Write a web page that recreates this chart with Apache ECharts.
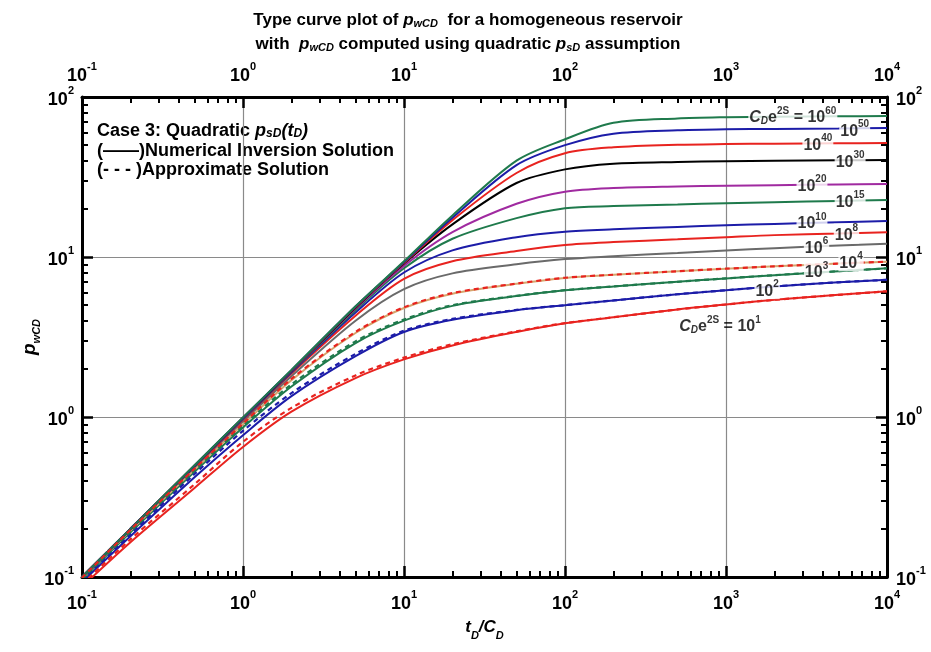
<!DOCTYPE html>
<html>
<head>
<meta charset="utf-8">
<script src="https://cdn.jsdelivr.net/npm/echarts@6/dist/echarts.min.js"></script>
<style>html,body{margin:0;padding:0;background:#fff;}#chart{width:931px;height:652px;}</style>
</head>
<body>
<div id="chart"></div>
<script>
// ---------- data ----------
const xVals = [0.1, 0.2, 0.5, 1, 2, 5, 10, 20, 50, 100, 200, 500, 1000, 2000, 5000, 10000];

const p1e1   = [0.087, 0.165, 0.36, 0.65, 1.08, 1.75, 2.29, 2.8, 3.4, 3.85, 4.2, 4.7, 5.05, 5.4, 5.8, 6.1];
const p1e1a  = [0.09, 0.172, 0.38, 0.70, 1.14, 1.82, 2.35, 2.85, 3.43, 3.86, 4.2, 4.7, 5.05, 5.4, 5.8, 6.1];
const p1e2   = [0.093, 0.18, 0.42, 0.77, 1.35, 2.4, 3.4, 4.05, 4.65, 5.0, 5.35, 5.85, 6.2, 6.55, 6.95, 7.2];
const p1e2a  = [0.095, 0.185, 0.44, 0.82, 1.41, 2.48, 3.46, 4.1, 4.67, 5.0, 5.35, 5.85, 6.2, 6.55, 6.95, 7.2];
const p1e3   = [0.096, 0.19, 0.455, 0.86, 1.55, 2.9, 4.0, 4.95, 5.7, 6.2, 6.55, 7.0, 7.35, 7.7, 8.15, 8.5];
const p1e3a  = [0.097, 0.192, 0.465, 0.88, 1.6, 2.97, 4.07, 5.0, 5.72, 6.2, 6.55, 7.0, 7.35, 7.7, 8.15, 8.5];
const p1e4   = [0.098, 0.195, 0.47, 0.9, 1.7, 3.35, 4.8, 5.9, 6.8, 7.4, 7.75, 8.15, 8.45, 8.75, 9.1, 9.35];
const p1e4a  = [0.099, 0.197, 0.475, 0.91, 1.73, 3.4, 4.85, 5.95, 6.82, 7.42, 7.75, 8.15, 8.45, 8.75, 9.1, 9.35];
const p1e6   = [0.099, 0.198, 0.485, 0.94, 1.8, 4.0, 6.3, 7.9, 9.0, 9.7, 10.1, 10.6, 11.0, 11.35, 11.8, 12.1];
const p1e8   = [0.1, 0.199, 0.49, 0.96, 1.87, 4.3, 7.3, 9.4, 10.9, 11.9, 12.4, 12.9, 13.3, 13.7, 14.0, 14.3];
const p1e10  = [0.1, 0.2, 0.492, 0.97, 1.9, 4.5, 8.0, 11.0, 13.3, 14.4, 14.9, 15.4, 15.8, 16.1, 16.5, 16.8];
const p1e15  = [0.1, 0.2, 0.494, 0.975, 1.92, 4.65, 8.5, 13.0, 17.5, 20.2, 20.8, 21.3, 21.7, 22.0, 22.4, 22.7];
const p1e20  = [0.1, 0.2, 0.495, 0.98, 1.93, 4.75, 8.8, 14.3, 21.5, 25.6, 27.0, 27.6, 27.9, 28.1, 28.4, 28.6];
const p1e30  = [0.1, 0.2, 0.496, 0.985, 1.94, 4.82, 9.1, 16.0, 29.0, 35.3, 38.3, 39.3, 39.7, 40.0, 40.2, 40.4];
const p1e40  = [0.1, 0.2, 0.497, 0.99, 1.95, 4.86, 9.2, 17.0, 33.5, 44.5, 48.5, 50.3, 50.8, 51.1, 51.4, 51.6];
const p1e50  = [0.1, 0.2, 0.498, 0.99, 1.96, 4.9, 9.3, 17.6, 37.5, 50.0, 59.0, 62.0, 62.8, 63.2, 63.6, 64.0];
const p1e60  = [0.1, 0.2, 0.5, 0.995, 1.97, 4.92, 9.4, 18.2, 40.0, 54.4, 69.0, 73.5, 74.8, 75.3, 75.7, 76.0];

const xTickLabels = [0.1, 1, 10, 100, 1000, 10000];
const yTickLabels = [0.1, 1, 10, 100];

// curve labels
const labelExp = ['60', '50', '40', '30', '20', '15', '10', '8', '6', '4', '3', '2', '1'];
const labelX   = [2600, 6300, 3720, 5900, 3420, 5900, 3420, 5600, 3650, 5980, 3650, 1800, 918];
const labelY   = [76, 62.5, 51.3, 40.2, 28.5, 22.5, 16.6, 14.0, 11.6, 9.4, 8.2, 6.3, 3.76];
const labelPrefix = [true, false, false, false, false, false, false, false, false, false, false, false, true];

// ---------- style ----------
const FN = "'Liberation Sans Narrow','Arial Narrow','Liberation Sans',Arial,sans-serif";
const FA = "'Liberation Sans',Arial,sans-serif";
const RED = '#e8231f', BLUE = '#1c1ca8', GREEN = '#1f7a4c', GRAY = '#6a6a6a', PURPLE = '#a02aa0', BLACK = '#000000', TAN = '#d6a56e';

function minorVals(lo, hi) {
  const out = [];
  for (let d = lo; d < hi; d++) for (let k = 2; k <= 9; k++) out.push(+(k * Math.pow(10, d)).toPrecision(6));
  return out;
}
const xMinor = minorVals(-1, 4);
const yMinor = minorVals(-1, 2);

const tickRich = {
  b: { fontFamily: FN, fontWeight: 'bold', fontSize: 18, color: '#000', lineHeight: 24, verticalAlign: 'bottom' },
  s: { fontFamily: FN, fontWeight: 'bold', fontSize: 11, color: '#000', lineHeight: 12, verticalAlign: 'top' }
};
function powFmt(v) { const e = Math.round(Math.log10(v)); return '{b|10}{s|' + e + '}'; }

function mainAxis(pos, isX, showSplit) {
  let margin = 8;
  if (pos === 'bottom') margin = 12;
  if (pos === 'top') margin = 12;
  if (pos === 'right') margin = 9;
  return {
    type: 'log', logBase: 10, position: pos, min: 0.1, max: isX ? 10000 : 100,
    axisLine: { show: true, onZero: false, lineStyle: { color: '#000', width: 3 } },
    axisTick: { show: true, inside: true, length: 11, lineStyle: { color: '#000', width: 2.5 },
                customValues: isX ? xTickLabels : yTickLabels },
    minorTick: { show: false },
    axisLabel: { show: true, formatter: powFmt, rich: tickRich, margin: margin,
                 customValues: isX ? xTickLabels : yTickLabels, showMinLabel: true, showMaxLabel: true },
    splitLine: { show: showSplit, lineStyle: { color: '#8a8a8a', width: 1.2 } }
  };
}
function minorAxis(pos, isX) {
  return {
    type: 'log', logBase: 10, position: pos, min: 0.1, max: isX ? 10000 : 100,
    axisLine: { show: false, onZero: false },
    axisTick: { show: true, inside: true, length: 6, lineStyle: { color: '#000', width: 2 },
                customValues: isX ? xMinor : yMinor },
    axisLabel: { show: false },
    splitLine: { show: false }
  };
}

const xAxes = [mainAxis('bottom', true, true), mainAxis('top', true, false), minorAxis('bottom', true), minorAxis('top', true)];
const yAxes = [mainAxis('left', false, true), mainAxis('right', false, false), minorAxis('left', false), minorAxis('right', false)];

xAxes[0].name = '{i|t}{sub|D}{i|/C}{sub|D}';
xAxes[0].nameLocation = 'middle';
xAxes[0].nameGap = 42;
xAxes[0].nameTextStyle = { rich: {
  i: { fontFamily: FA, fontStyle: 'italic', fontWeight: 'bold', fontSize: 17, color: '#000', lineHeight: 22, verticalAlign: 'top' },
  sub: { fontFamily: FA, fontStyle: 'italic', fontWeight: 'bold', fontSize: 11, color: '#000', lineHeight: 12, verticalAlign: 'bottom' } } };

yAxes[0].name = '{i|p}{sub|wCD}';
yAxes[0].nameLocation = 'middle';
yAxes[0].nameRotate = 90;
yAxes[0].nameGap = 40;
yAxes[0].nameMoveOverlap = false;
yAxes[0].nameTextStyle = { rich: {
  i: { fontFamily: FA, fontStyle: 'italic', fontWeight: 'bold', fontSize: 19, color: '#000', lineHeight: 22, verticalAlign: 'top' },
  sub: { fontFamily: FA, fontStyle: 'italic', fontWeight: 'bold', fontSize: 11, color: '#000', lineHeight: 12, verticalAlign: 'bottom' } } };

function mkLine(name, ys, color, dashed, z) {
  return {
    type: 'line', name: name, xAxisIndex: 0, yAxisIndex: 0,
    data: xVals.map((x, i) => [x, ys[i]]),
    smooth: 0.3, symbol: 'none', showSymbol: false, clip: true,
    lineStyle: { color: color, width: dashed ? 2.2 : 2, type: dashed ? [5, 4] : 'solid' },
    z: z, silent: true, animation: false
  };
}

const series = [
  mkLine('1e1', p1e1, RED, false, 2),
  mkLine('1e1a', p1e1a, RED, true, 3),
  mkLine('1e2', p1e2, BLUE, false, 2),
  mkLine('1e2a', p1e2a, BLUE, true, 3),
  mkLine('1e3', p1e3, GREEN, false, 2),
  mkLine('1e3a', p1e3a, GREEN, true, 3),
  mkLine('1e4', p1e4, TAN, false, 2),
  mkLine('1e4a', p1e4a, RED, true, 3),
  mkLine('1e6', p1e6, GRAY, false, 2),
  mkLine('1e8', p1e8, RED, false, 2),
  mkLine('1e10', p1e10, BLUE, false, 2),
  mkLine('1e15', p1e15, GREEN, false, 2),
  mkLine('1e20', p1e20, PURPLE, false, 2),
  mkLine('1e30', p1e30, BLACK, false, 2),
  mkLine('1e40', p1e40, RED, false, 2),
  mkLine('1e50', p1e50, BLUE, false, 2),
  mkLine('1e60', p1e60, GREEN, false, 2)
];

const lblRich = {
  b: { fontFamily: FN, fontWeight: 'bold', fontSize: 16, color: '#000', lineHeight: 20, verticalAlign: 'bottom' },
  bi: { fontFamily: FN, fontWeight: 'bold', fontStyle: 'italic', fontSize: 16, color: '#000', lineHeight: 20, verticalAlign: 'bottom' },
  s: { fontFamily: FN, fontWeight: 'bold', fontSize: 10, color: '#000', lineHeight: 11, verticalAlign: 'top' },
  sb: { fontFamily: FN, fontWeight: 'bold', fontStyle: 'italic', fontSize: 10, color: '#000', lineHeight: 11, verticalAlign: 'bottom' }
};
series.push({
  type: 'scatter', xAxisIndex: 0, yAxisIndex: 0, symbolSize: 0, z: 10, silent: true, animation: false,
  data: labelExp.map((e, i) => ({
    value: [labelX[i], labelY[i]],
    label: {
      show: true, position: 'inside',
      formatter: (labelPrefix[i] ? '{bi|C}{sb|D}{b|e}{s|2S}{b| = }' : '') + '{b|10}{s|' + e + '}',
      rich: lblRich,
      backgroundColor: i === 12 ? 'transparent' : '#fff',
      padding: [0, 1, 0, 1]
    }
  }))
});

const titleRich = {
  t: { fontFamily: FN, fontWeight: 'bold', fontSize: 17, color: '#000', lineHeight: 22, verticalAlign: 'bottom' },
  ti: { fontFamily: FN, fontWeight: 'bold', fontStyle: 'italic', fontSize: 17, color: '#000', lineHeight: 22, verticalAlign: 'bottom' },
  tsub: { fontFamily: FN, fontWeight: 'bold', fontStyle: 'italic', fontSize: 11, color: '#000', lineHeight: 12, verticalAlign: 'bottom' }
};
const legRich = {
  t: { fontFamily: FA, fontWeight: 'bold', fontSize: 18, color: '#000', lineHeight: 20, verticalAlign: 'bottom' },
  ti: { fontFamily: FA, fontWeight: 'bold', fontStyle: 'italic', fontSize: 18, color: '#000', lineHeight: 20, verticalAlign: 'bottom' },
  tsub: { fontFamily: FA, fontWeight: 'bold', fontStyle: 'italic', fontSize: 12, color: '#000', lineHeight: 12, verticalAlign: 'bottom' }
};

const option = {
  backgroundColor: '#fff',
  animation: false,
  grid: { left: 82, right: 44, top: 97, bottom: 75, containLabel: false },
  xAxis: xAxes,
  yAxis: yAxes,
  series: series,
  graphic: [
    { type: 'text', x: 468, y: 18, style: { text: '{t|Type curve plot of }{ti|p}{tsub|wCD}{t|  for a homogeneous reservoir}', rich: titleRich, align: 'center', verticalAlign: 'middle' } },
    { type: 'text', x: 468, y: 42, style: { text: '{t|with  }{ti|p}{tsub|wCD}{t| computed using quadratic }{ti|p}{tsub|sD}{t| assumption}', rich: titleRich, align: 'center', verticalAlign: 'middle' } },
    { type: 'text', x: 97, y: 130, style: { text: '{t|Case 3: Quadratic }{ti|p}{tsub|sD}{ti|(t}{tsub|D}{ti|)}', rich: legRich, align: 'left', verticalAlign: 'middle' } },
    { type: 'text', x: 97, y: 150, style: { text: '{t|(——)Numerical Inversion Solution}', rich: legRich, align: 'left', verticalAlign: 'middle' } },
    { type: 'text', x: 97, y: 169, style: { text: '{t|(- - - )Approximate Solution}', rich: legRich, align: 'left', verticalAlign: 'middle' } }
  ]
};

const chart = echarts.init(document.getElementById('chart'), null, { renderer: 'canvas' });
chart.setOption(option);
</script>
</body>
</html>
